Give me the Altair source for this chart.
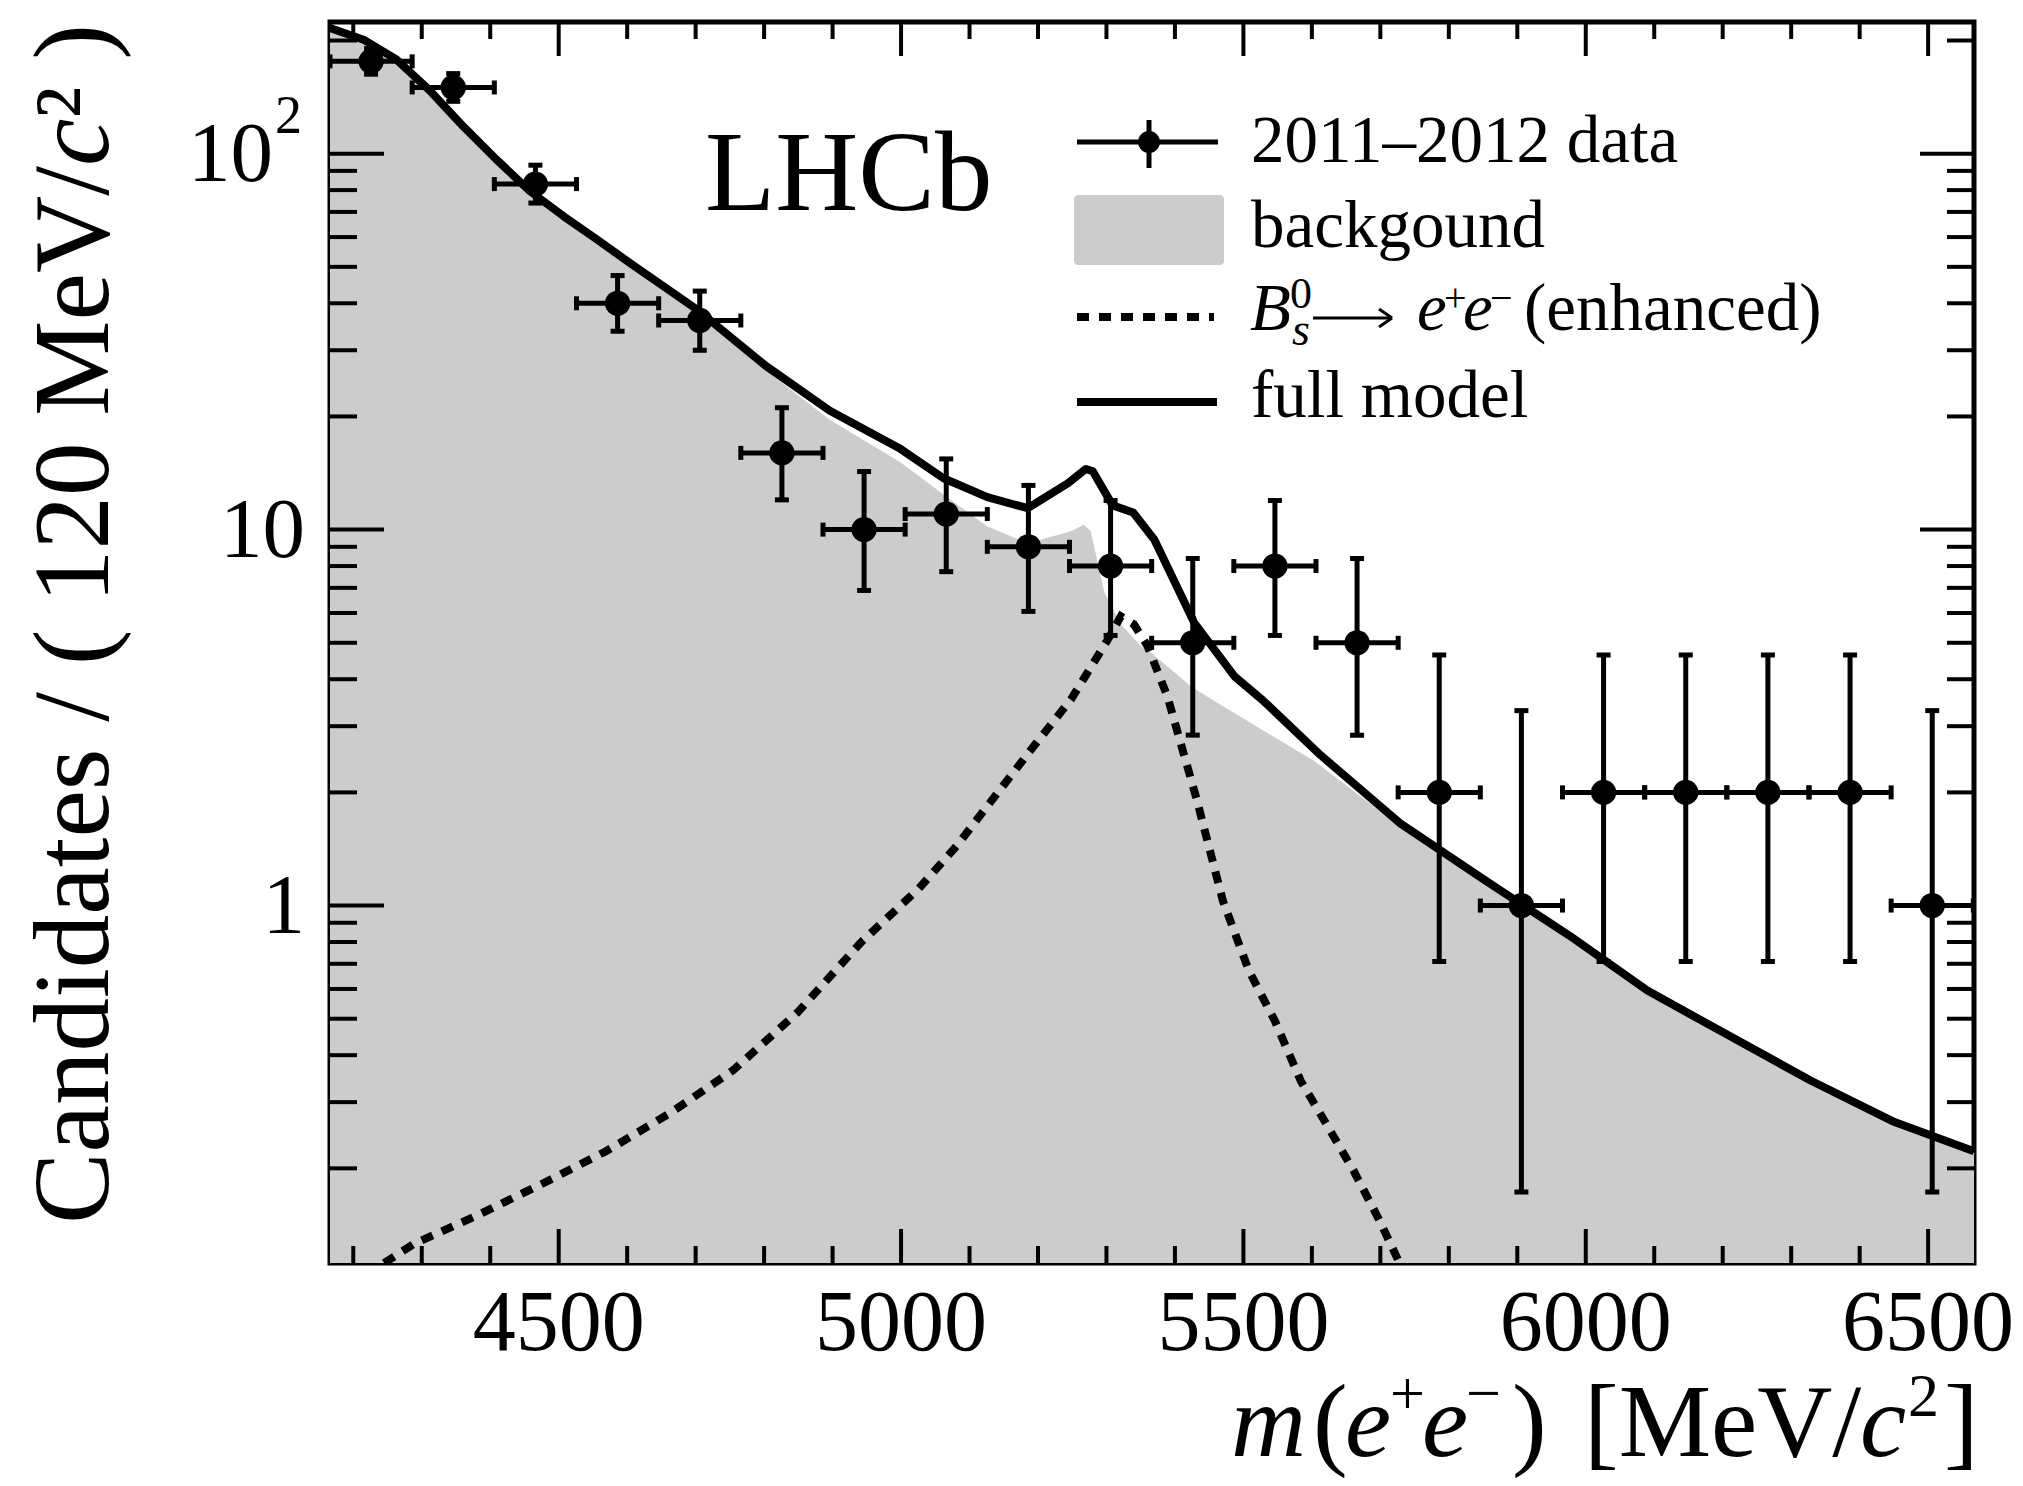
import altair as alt
import pandas as pd

# ---------------- values ----------------
PLOT_W, PLOT_H = 1644, 1241
X_DOMAIN = [4166, 6567]
Y_DOMAIN = [0.112, 224]

bin_centers = [4226, 4346, 4466, 4586, 4706, 4826, 4946, 5066, 5186, 5306,
               5426, 5546, 5666, 5786, 5906, 6026, 6146, 6266, 6386, 6506]
counts = [176, 150, 83, 40, 36, 16, 10, 11, 9, 8, 5, 8, 5, 2, 1, 2, 2, 2, 2, 1]
err_low = [162.7, 137.8, 73.9, 33.7, 30.0, 12.0, 6.89, 7.73, 6.06, 5.23,
           2.84, 5.23, 2.84, 0.71, 0.173, 0.71, 0.71, 0.71, 0.71, 0.173]
err_high = [190.3, 163.3, 93.2, 47.4, 43.1, 21.1, 14.27, 15.42, 13.11, 11.95,
            8.38, 11.95, 8.38, 4.64, 3.30, 4.64, 4.64, 4.64, 4.64, 3.30]
bin_half = 60

model_mass = [4166, 4215, 4263, 4312, 4361, 4409, 4458, 4507, 4556, 4604, 4653, 4702,
              4802, 4896, 4999, 5062, 5126, 5185, 5244, 5270, 5280, 5309, 5339, 5370,
              5428, 5487, 5528, 5613, 5728, 5852, 5976, 6090, 6209, 6329, 6448, 6567]
model_val = [216, 201, 178, 147, 118, 96.5, 79.5, 68.2, 59.1, 51.2, 44.4, 38.5,
             27.3, 20.7, 16.4, 13.7, 12.2, 11.4, 13.3, 14.5, 14.3, 11.6, 11.1, 9.4,
             5.66, 4.07, 3.52, 2.51, 1.66, 1.17, 0.832, 0.594, 0.451, 0.342, 0.267, 0.222]

bkg_mass = [4166, 4215, 4263, 4312, 4361, 4409, 4458, 4507, 4556, 4604, 4653, 4702,
            4802, 4896, 4999, 5062, 5126, 5185, 5248, 5267, 5277, 5297, 5321, 5351,
            5365, 5424, 5463, 5604, 5735, 5852, 5976, 6090, 6209, 6329, 6448, 6567]
bkg_val = [216, 201, 178, 147, 118, 96.5, 79.5, 68.2, 59.1, 51.2, 44.4, 38.3,
           26.6, 19.6, 15.1, 12.4, 10.2, 9.2, 9.9, 10.3, 9.9, 6.8, 5.6, 4.89,
           4.71, 3.82, 3.45, 2.42, 1.59, 1.15, 0.815, 0.585, 0.446, 0.339, 0.265, 0.22]

sig_mass = [4245, 4289, 4378, 4476, 4569, 4662, 4755, 4849, 4942, 5026, 5081, 5133,
            5190, 5248, 5302, 5321, 5340, 5360, 5389, 5432, 5470, 5508, 5546, 5584,
            5623, 5661, 5699, 5728]
sig_val = [0.112, 0.126, 0.149, 0.182, 0.222, 0.280, 0.365, 0.52, 0.80, 1.11, 1.44, 1.91,
           2.6, 3.53, 5.1, 5.88, 5.6, 4.9, 3.6, 1.91, 1.03, 0.671, 0.493, 0.341,
           0.259, 0.197, 0.145, 0.112]

x_major_ticks = [4500, 5000, 5500, 6000, 6500]
x_major_labels = ["4500", "5000", "5500", "6000", "6500"]
x_minor_ticks = [4200, 4300, 4400, 4600, 4700, 4800, 4900, 5100, 5200, 5300, 5400,
                 5600, 5700, 5800, 5900, 6100, 6200, 6300, 6400]
y_major_ticks = [1, 10, 100]
y_label_base = ["1", "10", "10"]          # mantissa text of each major label
y_label_exp = ["", "", "2"]               # raised exponent, if any
y_label_shift = [-25, -25, -57]           # right edge of the mantissa (px from axis)
y_minor_ticks = [0.2, 0.3, 0.4, 0.5, 0.6, 0.7, 0.8, 0.9,
                 2, 3, 4, 5, 6, 7, 8, 9, 20, 30, 40, 50, 60, 70, 80, 90, 200]

FONT = "Liberation Serif"
GREY = "#cccccc"

# ---------------- tables ----------------
data_df = pd.DataFrame({"m": bin_centers, "n": counts, "lo": err_low, "hi": err_high})
data_df["mlo"] = data_df["m"] - bin_half
data_df["mhi"] = data_df["m"] + bin_half
model_df = pd.DataFrame({"m": model_mass, "v": model_val})
bkg_df = pd.DataFrame({"m": bkg_mass, "v": bkg_val, "base": [Y_DOMAIN[0]] * len(bkg_mass)})
sig_df = pd.DataFrame({"m": sig_mass, "v": sig_val})
xmaj_df = pd.DataFrame({"p": x_major_ticks, "t": x_major_labels})
xmin_df = pd.DataFrame({"p": x_minor_ticks})
ymaj_df = pd.DataFrame({"p": y_major_ticks, "t": y_label_base, "e": y_label_exp})
ymin_df = pd.DataFrame({"p": y_minor_ticks})
one = pd.DataFrame({"a": [0]})

xs = alt.Scale(domain=X_DOMAIN, nice=False, zero=False)
ys = alt.Scale(type="log", domain=Y_DOMAIN, nice=False)


def X(f, **kw):
    return alt.X(f, type="quantitative", scale=xs, axis=None, **kw)


def Y(f, **kw):
    return alt.Y(f, type="quantitative", scale=ys, axis=None, **kw)


layers = []

# background area
layers.append(alt.Chart(bkg_df).mark_area(color=GREY, clip=True, interpolate="linear",
                                          opacity=1).encode(x=X("m"), y=Y("v"), y2="base:Q"))
# signal (enhanced), dotted
layers.append(alt.Chart(sig_df).mark_line(color="black", strokeWidth=8, strokeDash=[12, 10],
                                          clip=True).encode(x=X("m"), y=Y("v")))
# full model
layers.append(alt.Chart(model_df).mark_line(color="black", strokeWidth=8, clip=True,
                                            strokeJoin="round").encode(x=X("m"), y=Y("v")))

# data: error bars, caps, markers
layers.append(alt.Chart(data_df).mark_rule(color="black", strokeWidth=5, clip=True).encode(
    x=X("m"), y=Y("lo"), y2="hi"))
layers.append(alt.Chart(data_df).mark_rule(color="black", strokeWidth=5, clip=True).encode(
    x=X("mlo"), x2="mhi", y=Y("n")))
for f in ["lo", "hi"]:
    layers.append(alt.Chart(data_df).mark_tick(color="black", orient="horizontal", size=14,
                                               thickness=5, opacity=1, clip=True).encode(
        x=X("m"), y=Y(f)))
for f in ["mlo", "mhi"]:
    layers.append(alt.Chart(data_df).mark_tick(color="black", orient="vertical", size=14,
                                               thickness=5, opacity=1, clip=True).encode(
        x=X(f), y=Y("n")))
layers.append(alt.Chart(data_df).mark_circle(color="black", opacity=1, size=640).encode(
    x=X("m"), y=Y("n")))

# frame ticks (ROOT style, all four sides)
TW = 4
for df, L in [(xmaj_df, 34), (xmin_df, 17)]:
    layers.append(alt.Chart(df).mark_rule(color="black", strokeWidth=TW).encode(
        x=X("p"), y=alt.value(PLOT_H), y2=alt.value(PLOT_H - L)))
    layers.append(alt.Chart(df).mark_rule(color="black", strokeWidth=TW).encode(
        x=X("p"), y=alt.value(0), y2=alt.value(L)))
for df, L in [(ymaj_df, 54), (ymin_df, 27)]:
    layers.append(alt.Chart(df).mark_rule(color="black", strokeWidth=TW).encode(
        y=Y("p"), x=alt.value(0), x2=alt.value(L)))
    layers.append(alt.Chart(df).mark_rule(color="black", strokeWidth=TW).encode(
        y=Y("p"), x=alt.value(PLOT_W), x2=alt.value(PLOT_W - L)))

# tick labels, placed through the scales
layers.append(alt.Chart(xmaj_df).mark_text(font=FONT, fontSize=86, align="center",
                                           baseline="alphabetic", color="black").encode(
    x=X("p"), y=alt.value(PLOT_H + 87), text="t:N"))
for i in range(len(y_major_ticks)):
    row = ymaj_df.iloc[[i]]
    layers.append(alt.Chart(row).mark_text(font=FONT, fontSize=85, align="right",
                                           baseline="alphabetic", color="black", dy=27).encode(
        y=Y("p"), x=alt.value(y_label_shift[i]), text="t:N"))
    if y_label_exp[i]:
        layers.append(alt.Chart(row).mark_text(font=FONT, fontSize=54, align="right",
                                               baseline="alphabetic", color="black",
                                               dy=-21).encode(
            y=Y("p"), x=alt.value(-28), text="e:N"))


def txt(s, x, y, size, italic=False, align="left", baseline="alphabetic", angle=None, font=FONT):
    kw = dict(font=font, fontSize=size, align=align, baseline=baseline, color="black")
    if italic:
        kw["fontStyle"] = "italic"
    if angle is not None:
        kw["angle"] = angle
    return alt.Chart(one).mark_text(**kw).encode(x=alt.value(x), y=alt.value(y), text=alt.value(s))


def seg(x1, x2, y1, y2, w, dash=None):
    kw = dict(color="black", strokeWidth=w)
    if dash:
        kw["strokeDash"] = dash
    return alt.Chart(one).mark_rule(**kw).encode(
        x=alt.value(x1), x2=alt.value(x2), y=alt.value(y1), y2=alt.value(y2))


# LHCb label
layers.append(txt("LHCb", 375, 188, 115))

# legend
LX = 921
layers.append(seg(747, 888, 120, 120, 5))
layers.append(seg(819, 819, 98, 146, 5))
layers.append(alt.Chart(one).mark_circle(color="black", opacity=1, size=480).encode(
    x=alt.value(819), y=alt.value(120)))
layers.append(txt("2011–2012 data", LX, 140, 67))

layers.append(alt.Chart(one).mark_rect(color=GREY, cornerRadius=4, opacity=1).encode(
    x=alt.value(744), x2=alt.value(894), y=alt.value(173), y2=alt.value(243)))
layers.append(txt("backgound", LX, 225, 67))

layers.append(seg(747, 884, 295, 295, 8, dash=[12, 10]))
layers.append(txt("B", 920, 308, 67, italic=True))
layers.append(txt("0", 960, 286, 44))
layers.append(txt("s", 962, 323, 46, italic=True))
# arrow (thin shaft with an open head)
layers.append(seg(983, 1061, 296, 296, 3))
layers.append(seg(1062, 1049, 296, 287, 3))
layers.append(seg(1062, 1049, 296, 305, 3))
layers.append(txt("e", 1087, 308, 67, italic=True))
layers.append(txt("+", 1114, 289, 40))
layers.append(txt("e", 1133, 308, 67, italic=True))
layers.append(txt("−", 1160, 289, 40))
layers.append(txt("(enhanced)", 1194, 308, 67))

layers.append(seg(747, 887, 380, 380, 8))
layers.append(txt("full model", LX, 395, 67))

# x-axis title  m(e+e-) [MeV/c2]
XB = 1434
XS = XB - 42
layers.append(txt("m", 901, XB, 104, italic=True))
layers.append(txt("(", 983, XB, 104))
layers.append(txt("e", 1015, XB, 104, italic=True))
layers.append(txt("+", 1060, XS, 62))
layers.append(txt("e", 1092, XB, 104, italic=True))
layers.append(txt("−", 1136, XS, 62))
layers.append(txt(")", 1182, XB, 104))
layers.append(txt("[MeV/", 1254, XB, 104))
layers.append(txt("c", 1530, XB, 104, italic=True))
layers.append(txt("2", 1578, XS + 2, 62))
layers.append(txt("]", 1614, XB, 104))

# y-axis title  Candidates / ( 120 MeV/c2 )
YF = 107
YX = -222
layers.append(txt("² )", YX, 2, YF, align="right", angle=270))
layers.append(txt("c", YX, 2 + 0.883 * YF, YF, italic=True, align="right", angle=270))
layers.append(txt("Candidates / ( 120 MeV/", YX, 2 + 1.327 * YF, YF, align="right", angle=270))

chart = alt.layer(*layers).properties(
    width=PLOT_W, height=PLOT_H,
    autosize=alt.AutoSizeParams(type="none"),
    padding={"left": 322, "top": 14, "right": 41, "bottom": 215},
    background="white",
).configure_view(stroke="black", strokeWidth=5, fill=None)

chart.save("out.html", embed_options={"renderer": "svg", "actions": False})
